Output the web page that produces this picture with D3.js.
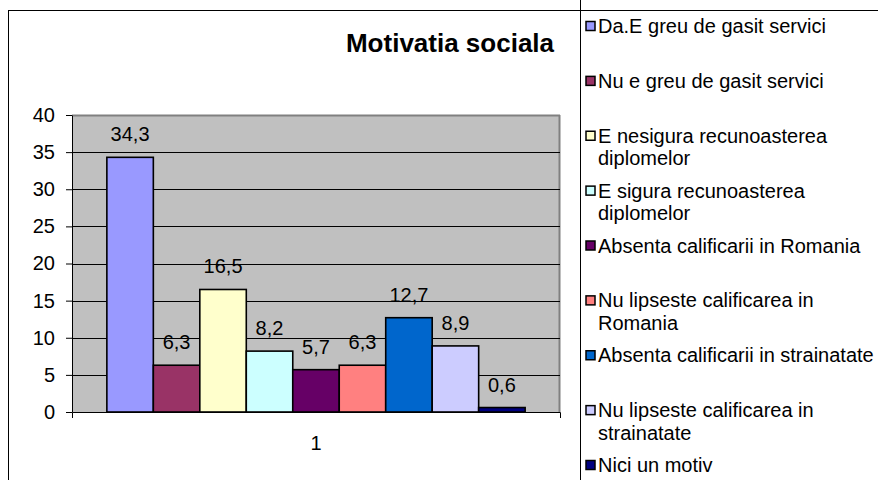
<!DOCTYPE html>
<html>
<head>
<meta charset="utf-8">
<script src="https://cdn.jsdelivr.net/npm/d3@7"></script>
<style>
  html, body { margin: 0; padding: 0; background: #fff; }
  svg { display: block; font-family: "Liberation Sans", Arial, sans-serif; }
</style>
</head>
<body>
<svg id="chart" width="878" height="480"></svg>
<script>
// ── Data ─────────────────────────────────────────────────────────────
const categories = ['1'];
const seriesNames = [
  'Da.E greu de gasit servici',
  'Nu e greu de gasit servici',
  'E nesigura recunoasterea\ndiplomelor',
  'E sigura recunoasterea\ndiplomelor',
  'Absenta calificarii in Romania',
  'Nu lipseste calificarea in\nRomania',
  'Absenta calificarii in strainatate',
  'Nu lipseste calificarea in\nstrainatate',
  'Nici un motiv'
];
const seriesValues = [34.3, 6.3, 16.5, 8.2, 5.7, 6.3, 12.7, 8.9, 0.6];
const seriesColors = ['#9999FF', '#993366', '#FFFFCC', '#CCFFFF', '#660066', '#FF8080', '#0066CC', '#CCCCFF', '#000080'];
const yTicks = [0, 5, 10, 15, 20, 25, 30, 35, 40];
const chartTitle = 'Motivatia sociala';

// ── Layout ───────────────────────────────────────────────────────────
const PLOT = {left: 72, right: 560, top: 115, bottom: 412};
const LEGEND = {x: 580, markerX: 586, textX: 598, firstY: 26, lastY: 465};

const svg = d3.select('#chart');
const fmt = d3.formatLocale({decimal: ',', thousands: '.', grouping: [3], currency: ['', '']}).format('.1f');

// chart border
svg.append('rect')
  .attr('x', 8.5).attr('y', 10.5)
  .attr('width', 880).attr('height', 480)
  .attr('fill', '#fff').attr('stroke', '#000').attr('stroke-width', 1);

// title
svg.append('text')
  .attr('x', 450).attr('y', 52)
  .attr('text-anchor', 'middle')
  .style('font-size', '26px').style('font-weight', 'bold')
  .text(chartTitle);

// scales
const y = d3.scaleLinear().domain([0, 40]).range([PLOT.bottom, PLOT.top]);
const x0 = d3.scaleBand().domain(categories).range([PLOT.left, PLOT.right])
  .paddingInner(0).paddingOuter(0.75 / 9);
const x1 = d3.scaleBand().domain(seriesNames).range([0, x0.bandwidth()]).padding(0);

// plot area
svg.append('rect')
  .attr('x', PLOT.left).attr('y', PLOT.top)
  .attr('width', PLOT.right - PLOT.left).attr('height', PLOT.bottom - PLOT.top)
  .attr('fill', '#C0C0C0');
svg.append('path')
  .attr('d', `M${PLOT.left},${PLOT.top + 0.5}H${PLOT.right}M${PLOT.right - 0.5},${PLOT.top}V${PLOT.bottom}`)
  .attr('fill', 'none').attr('stroke', '#808080').attr('stroke-width', 2);

// gridlines
const grid = svg.append('g')
  .attr('transform', `translate(${PLOT.left},0)`)
  .call(d3.axisLeft(y).tickValues(yTicks.filter((t) => t > 0 && t < 40))
    .tickSize(-(PLOT.right - PLOT.left)).tickFormat(''));
grid.select('.domain').remove();
grid.selectAll('line').attr('stroke', '#000').attr('shape-rendering', 'crispEdges');

// bars
const group = svg.append('g').attr('transform', `translate(${x0('1')},0)`);
group.selectAll('rect.bar')
  .data(seriesValues)
  .join('rect')
  .attr('class', 'bar')
  .attr('x', (d, i) => x1(seriesNames[i]))
  .attr('y', (d) => y(d))
  .attr('width', x1.bandwidth())
  .attr('height', (d) => y(0) - y(d))
  .attr('fill', (d, i) => seriesColors[i])
  .attr('stroke', '#000').attr('stroke-width', 1.6);

group.selectAll('text.label')
  .data(seriesValues)
  .join('text')
  .attr('class', 'label')
  .attr('x', (d, i) => x1(seriesNames[i]) + x1.bandwidth() / 2)
  .attr('y', (d) => y(d) - 16)
  .attr('text-anchor', 'middle')
  .style('font-size', '20px')
  .text((d) => fmt(d));

// y axis
const yAxis = svg.append('g')
  .attr('transform', `translate(${PLOT.left},0)`)
  .call(d3.axisLeft(y).tickValues(yTicks).tickSize(6).tickPadding(11).tickSizeOuter(0));
yAxis.select('.domain').attr('stroke', '#000');
yAxis.selectAll('text').style('font-size', '20px').attr('fill', '#000').attr('font-family', null);
yAxis.selectAll('line').attr('stroke', '#000');
yAxis.attr('font-family', null).attr('font-size', null);

// x axis
const xAxis = svg.append('g')
  .attr('transform', `translate(0,${PLOT.bottom})`)
  .call(d3.axisBottom(x0).tickSize(0).tickPadding(24).tickSizeOuter(6));
xAxis.select('.domain').attr('stroke', '#000');
xAxis.selectAll('text').style('font-size', '20px').attr('fill', '#000');
xAxis.attr('font-family', null).attr('font-size', null);

// legend
svg.append('rect')
  .attr('x', LEGEND.x + 0.5).attr('y', -2)
  .attr('width', 320).attr('height', 490)
  .attr('fill', '#fff').attr('stroke', '#000').attr('stroke-width', 1);
svg.append('line')
  .attr('x1', LEGEND.x + 0.5).attr('x2', 878).attr('y1', 10.5).attr('y2', 10.5)
  .attr('stroke', '#000');

const ly = d3.scalePoint().domain(seriesNames).range([LEGEND.firstY, LEGEND.lastY]);
const items = svg.append('g').selectAll('g.item')
  .data(seriesNames)
  .join('g')
  .attr('class', 'item')
  .attr('transform', (d) => `translate(0,${ly(d)})`);

items.append('rect')
  .attr('x', LEGEND.markerX).attr('y', -4.5)
  .attr('width', 9).attr('height', 9)
  .attr('fill', (d, i) => seriesColors[i])
  .attr('stroke', '#000').attr('stroke-width', 1.5);

items.append('text')
  .attr('x', LEGEND.textX).attr('y', 7)
  .style('font-size', '20px')
  .selectAll('tspan')
  .data((d) => d.split('\n'))
  .join('tspan')
  .attr('x', LEGEND.textX)
  .attr('dy', (d, i) => (i === 0 ? 0 : 22.5))
  .text((d) => d);
</script>
</body>
</html>
